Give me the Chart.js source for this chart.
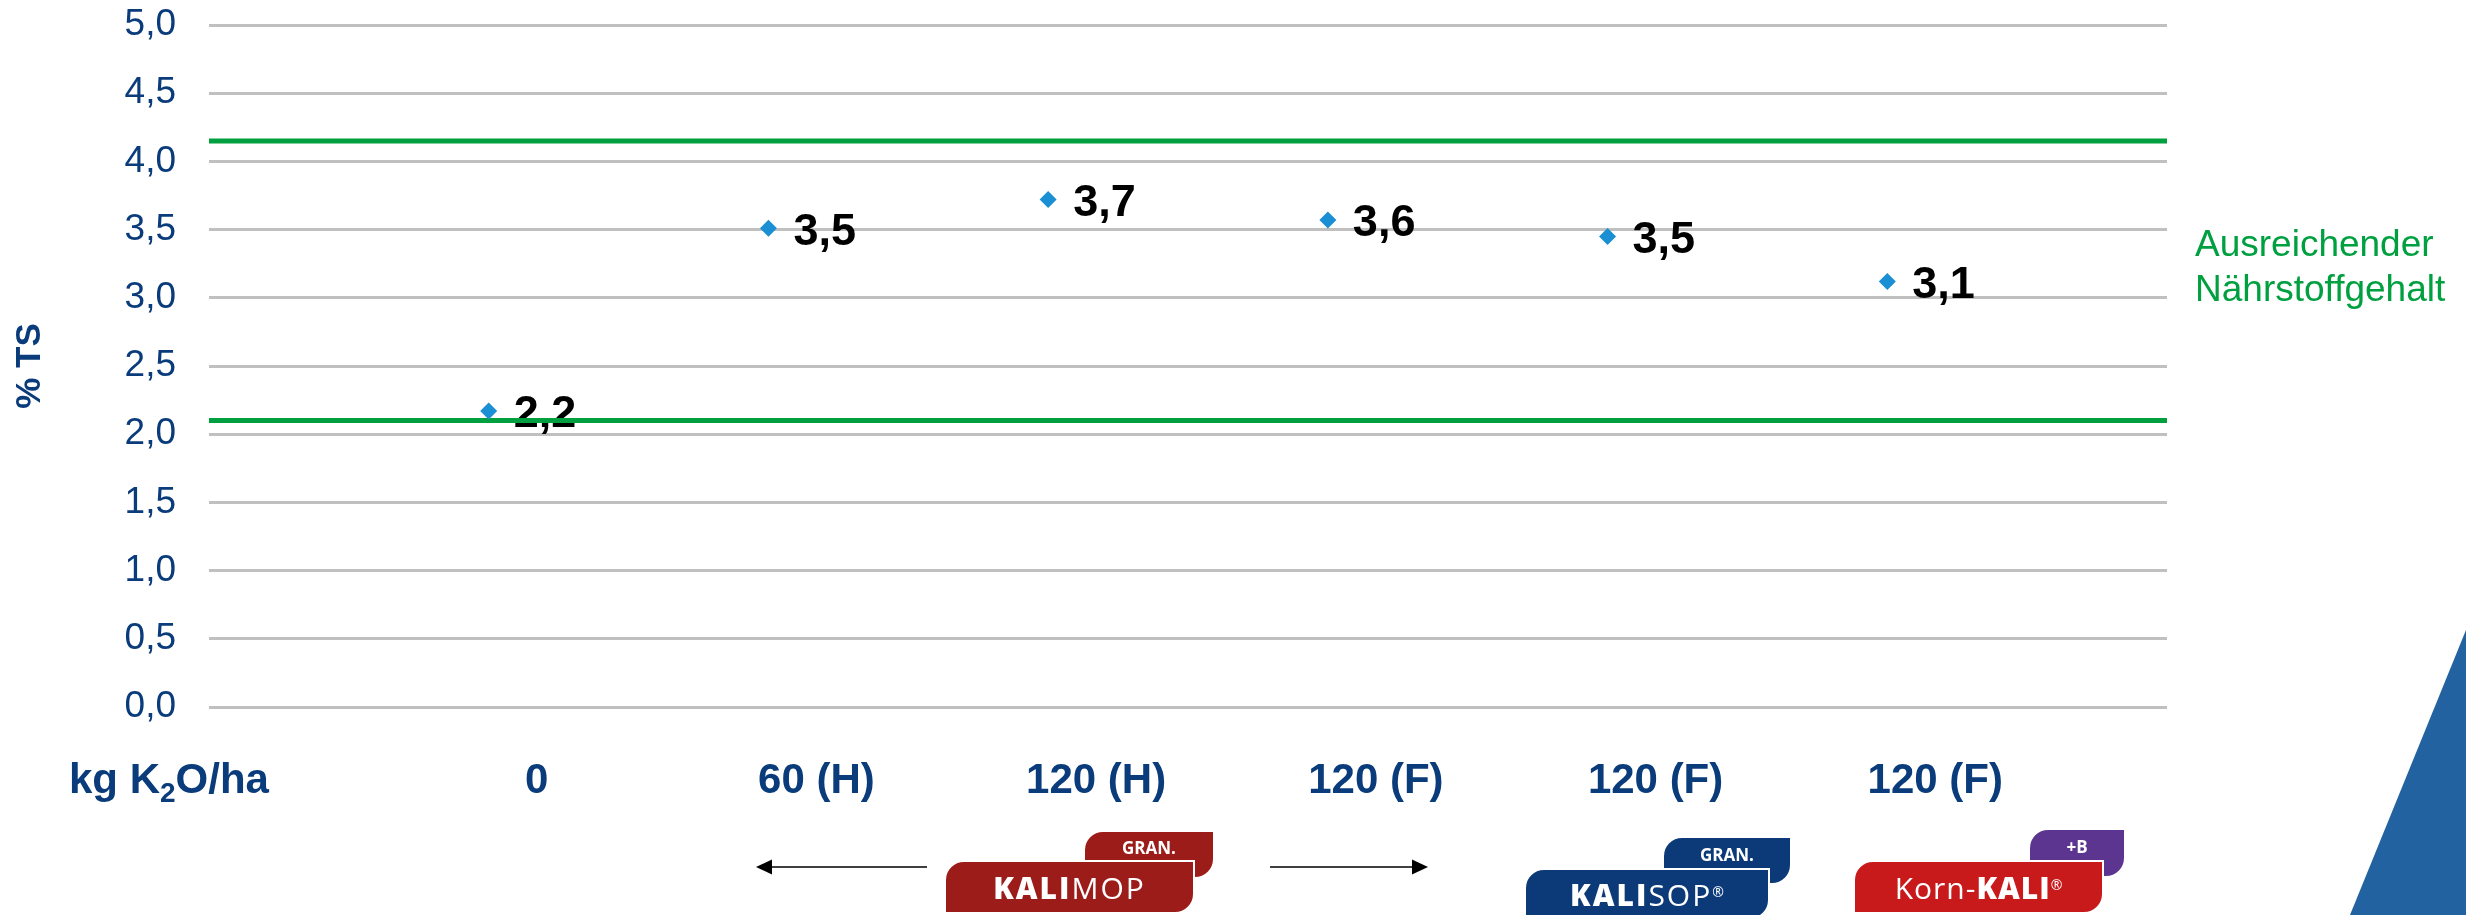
<!DOCTYPE html>
<html>
<head>
<meta charset="utf-8">
<script src="https://cdn.jsdelivr.net/npm/chart.js@4.4.1/dist/chart.umd.min.js"></script>
<style>
html,body{margin:0;padding:0;background:#fff;}
#wrap{position:relative;width:2466px;height:915px;overflow:hidden;background:#fff;}
#c{position:absolute;left:0;top:0;}
svg{position:absolute;left:0;top:0;}
.box{position:absolute;box-sizing:border-box;display:flex;align-items:center;justify-content:center;color:#fff;font-family:"Open Sans","Liberation Sans",sans-serif;white-space:nowrap;}
.tab{align-items:flex-start;}
.tab span{display:flex;align-items:center;justify-content:center;width:100%;font-weight:700;font-size:17px;}
.main{border:2px solid #fff;font-size:30px;letter-spacing:2px;}
.main b{font-weight:800;}
.main .lt{font-weight:400;}
.main sup{font-size:14px;vertical-align:top;position:relative;top:-3px;letter-spacing:0;}
</style>
</head>
<body>
<div id="wrap">
<canvas id="c" width="2466" height="915"></canvas>
<svg width="2466" height="915" viewBox="0 0 2466 915">
  <line x1="770" y1="867" x2="927" y2="867" stroke="#000" stroke-width="1.6"/>
  <polygon points="756,867 772,859.5 772,874.5" fill="#000"/>
  <line x1="1270" y1="867" x2="1414" y2="867" stroke="#000" stroke-width="1.6"/>
  <polygon points="1428,867 1412,859.5 1412,874.5" fill="#000"/>
  <polygon points="2350,915 2466,630 2466,915" fill="#2362a0"/>
</svg>

<div class="box tab" style="left:1085px;top:832px;width:128px;height:45px;background:#9b1c18;border-radius:18px 0 18px 0;"><span style="height:30px;">GRAN.</span></div>
<div class="box main" style="left:944px;top:860px;width:251px;height:54px;background:#9b1c18;border-radius:20px 0 20px 0;"><b>KALI</b><span class="lt">MOP</span></div>

<div class="box tab" style="left:1664px;top:838px;width:126px;height:45px;background:#0c3a78;border-radius:18px 0 18px 0;"><span style="height:32px;">GRAN.</span></div>
<div class="box main" style="left:1524px;top:868px;width:246px;height:52px;background:#0c3a78;border-radius:20px 0 20px 0;"><b>KALI</b><span class="lt">SOP</span><sup>®</sup></div>

<div class="box tab" style="left:2030px;top:830px;width:94px;height:46px;background:#5b3590;border-radius:18px 0 18px 0;"><span style="height:32px;">+B</span></div>
<div class="box main" style="left:1853px;top:860px;width:251px;height:54px;background:#c8191b;border-radius:20px 0 20px 0;letter-spacing:1px;"><span class="lt">Korn-</span><b>KALI</b><sup>®</sup></div>
</div>

<script>
// ---- data ----
const categories = ['0', '60 (H)', '120 (H)', '120 (F)', '120 (F)', '120 (F)'];
const values = [2.17, 3.51, 3.72, 3.57, 3.45, 3.12];
const yTickValues = [0.0, 0.5, 1.0, 1.5, 2.0, 2.5, 3.0, 3.5, 4.0, 4.5, 5.0];
const thresholds = [2.1, 4.15];
const thresholdNote = ['Ausreichender', 'Nährstoffgehalt'];
const xAxisUnit = ['kg K', '2', 'O/ha'];
const yAxisTitle = '% TS';

// ---- styles ----
const FONT = '"Liberation Sans", Arial, sans-serif';
const BLUE = '#0a3b7b';
const GREEN = '#00a040';
const MARKER = '#1b8fd4';
const fmt = v => v.toFixed(1).replace('.', ',');

const pointLabels = {
  id: 'pointLabels',
  beforeDatasetsDraw(chart) {
    const meta = chart.getDatasetMeta(0);
    const ctx = chart.ctx;
    ctx.save();
    ctx.font = 'bold 45px ' + FONT;
    ctx.fillStyle = '#000';
    ctx.textAlign = 'left';
    ctx.textBaseline = 'middle';
    meta.data.forEach((pt, i) => {
      ctx.fillText(fmt(values[i]), pt.x + 25, pt.y + 4);
    });
    ctx.restore();
  }
};

const annotations = {
  id: 'annotations',
  afterDraw(chart) {
    const ctx = chart.ctx;
    const area = chart.chartArea;
    ctx.save();
    ctx.fillStyle = BLUE;
    ctx.textBaseline = 'alphabetic';
    ctx.textAlign = 'left';
    let x = 69;
    const base = 793;
    ctx.font = 'bold 42px ' + FONT;
    ctx.fillText(xAxisUnit[0], x, base);
    x += ctx.measureText(xAxisUnit[0]).width;
    ctx.font = 'bold 28px ' + FONT;
    ctx.fillText(xAxisUnit[1], x, base + 9);
    x += ctx.measureText(xAxisUnit[1]).width;
    ctx.font = 'bold 42px ' + FONT;
    ctx.fillText(xAxisUnit[2], x, base);
    ctx.fillStyle = GREEN;
    ctx.font = '37px ' + FONT;
    ctx.fillText(thresholdNote[0], area.right + 28, 256);
    ctx.fillText(thresholdNote[1], area.right + 28, 301);
    ctx.restore();
  }
};

const datasets = [
  {
    data: values.map((v, i) => ({ x: i + 1, y: v })),
    pointStyle: 'rectRot',
    pointRadius: 8.5,
    pointHoverRadius: 8.5,
    pointBackgroundColor: MARKER,
    pointBorderWidth: 0,
    showLine: false
  }
].concat(thresholds.map(t => ({
  type: 'line',
  data: [{ x: 0, y: t }, { x: 7, y: t }],
  borderColor: GREEN,
  borderWidth: 5,
  pointRadius: 0,
  fill: false
})));

new Chart(document.getElementById('c'), {
  type: 'scatter',
  data: { datasets },
  options: {
    responsive: false,
    animation: false,
    devicePixelRatio: 1,
    layout: { padding: { left: 0, right: 299, top: 25, bottom: 0 } },
    plugins: { legend: { display: false }, tooltip: { enabled: false } },
    scales: {
      x: {
        type: 'linear',
        min: 0,
        max: 7,
        grid: { display: false },
        border: { display: false },
        afterBuildTicks: s => { s.ticks = categories.map((c, i) => ({ value: i + 1 })); },
        ticks: {
          callback: (v, i) => categories[i],
          color: BLUE,
          font: { family: FONT, size: 42, weight: 'bold' },
          padding: 41,
          labelOffset: 48,
          maxRotation: 0,
          autoSkip: false
        },
        afterFit: s => { s.height = 208; s.paddingLeft = 0; s.paddingRight = 0; }
      },
      y: {
        min: 0,
        max: 5,
        afterBuildTicks: s => { s.ticks = yTickValues.map(v => ({ value: v })); },
        grid: { color: '#c0c0c0', lineWidth: 3, drawTicks: false },
        border: { display: false },
        ticks: {
          callback: v => fmt(v),
          color: BLUE,
          font: { family: FONT, size: 37 },
          padding: 33
        },
        title: {
          display: true,
          text: yAxisTitle,
          color: BLUE,
          font: { family: FONT, size: 35, weight: 'bold' },
          padding: { top: 9, bottom: 0 }
        },
        afterFit: s => { s.width = 209; s.paddingTop = 0; s.paddingBottom = 0; }
      }
    }
  },
  plugins: [pointLabels, annotations]
});
</script>
</body>
</html>
